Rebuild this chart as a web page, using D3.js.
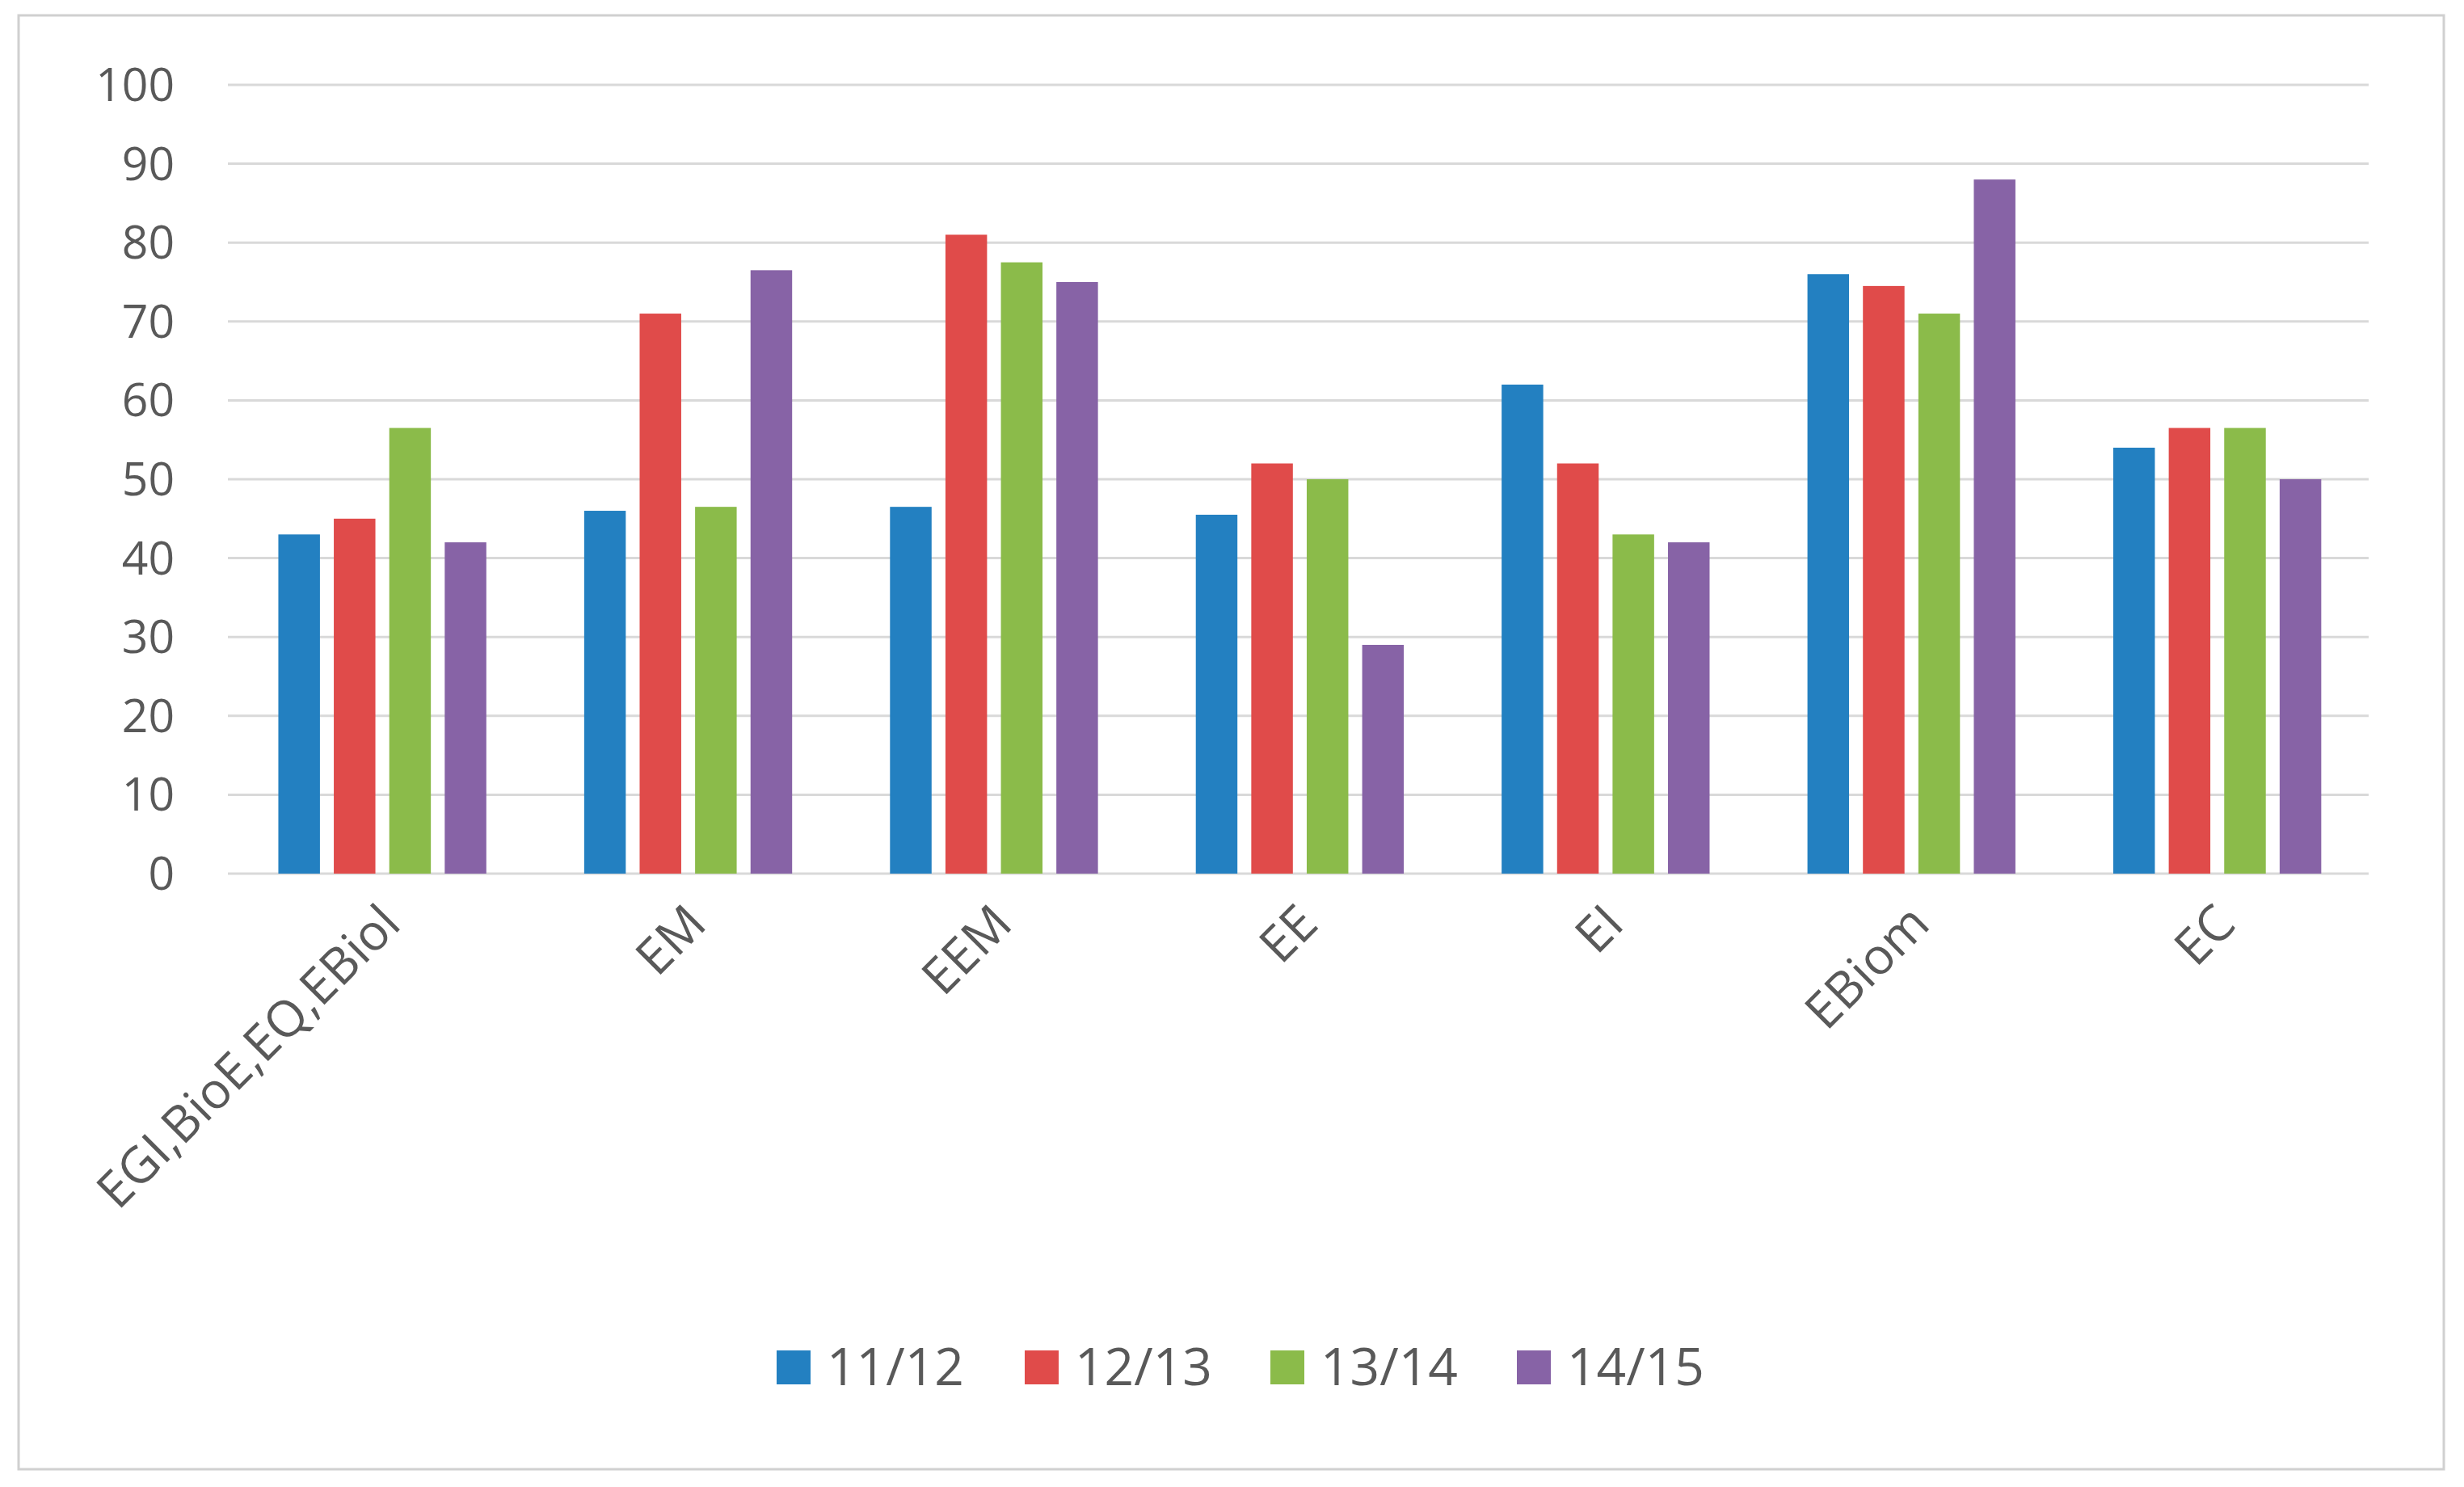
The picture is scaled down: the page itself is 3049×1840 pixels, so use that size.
<!DOCTYPE html><html><head><meta charset="utf-8">
<script src="https://cdn.jsdelivr.net/npm/d3@7"></script>
<style>body{margin:0;background:#fff}</style></head><body>
<svg id="c" width="3049" height="1840"></svg>
<script>
const categories=["EGI,BioE,EQ,EBiol","EM","EEM","EE","EI","EBiom","EC"];
const seriesNames=["11/12","12/13","13/14","14/15"];
const s1112=[43,46,46.5,45.5,62,76,54];
const s1213=[45,71,81,52,52,74.5,56.5];
const s1314=[56.5,46.5,77.5,50,43,71,56.5];
const s1415=[42,76.5,75,29,42,88,50];
const yTicks=[0,10,20,30,40,50,60,70,80,90,100];
const colors=["#2380c1","#e04b4a","#8bbb4a","#8763a6"];
const series=[s1112,s1213,s1314,s1415];
const svg=d3.select("#c");
const font="'Open Sans', 'Liberation Sans', sans-serif";
svg.append("rect").attr("x",23).attr("y",19).attr("width",3001).attr("height",1799).attr("fill","#fff").attr("stroke","#d0d0d0").attr("stroke-width",3);
const L=282,R=2931,T=105,B=1081;
const x0=d3.scaleBand().domain(categories).range([L,R]);
const bw=x0.bandwidth();
const x1=d3.scaleBand().domain(seriesNames).range([0.165*bw,0.845*bw]).paddingInner(0.25);
const y=d3.scaleLinear().domain([0,100]).range([B,T]);
const g=svg.append("g");
g.selectAll("line.grid").data(yTicks).join("line").attr("x1",L).attr("x2",R).attr("y1",d=>y(d)).attr("y2",d=>y(d)).attr("stroke","#d9d9d9").attr("stroke-width",3);
g.selectAll("text.yt").data(yTicks).join("text").attr("x",L-66).attr("y",d=>y(d)).attr("dy","0.35em").attr("text-anchor","end").attr("font-family",font).attr("font-size",57).attr("fill","#595959").text(d=>d);
series.forEach((s,i)=>{
 g.selectAll("rect.s"+i).data(categories).join("rect").attr("x",c=>x0(c)+x1(seriesNames[i])).attr("width",x1.bandwidth())
  .attr("y",(c,j)=>y(s[j])).attr("height",(c,j)=>B-y(s[j])).attr("fill",colors[i]);
});
g.selectAll("text.cat").data(categories).join("text")
 .attr("transform",c=>`translate(${x0(c)+bw/2+12},${B+50}) rotate(-45)`)
 .attr("text-anchor","end").attr("dy","0.35em").attr("font-family",font).attr("font-size",62).attr("fill","#595959").text(c=>c);
const lx=[961,1268,1572,1877];
seriesNames.forEach((n,i)=>{
 svg.append("rect").attr("x",lx[i]).attr("y",1671).attr("width",42).attr("height",42).attr("fill",colors[i]);
 svg.append("text").attr("x",lx[i]+62).attr("y",1692).attr("dy","0.35em").attr("font-family",font).attr("font-size",64).attr("fill","#595959").text(n);
});
</script></body></html>
